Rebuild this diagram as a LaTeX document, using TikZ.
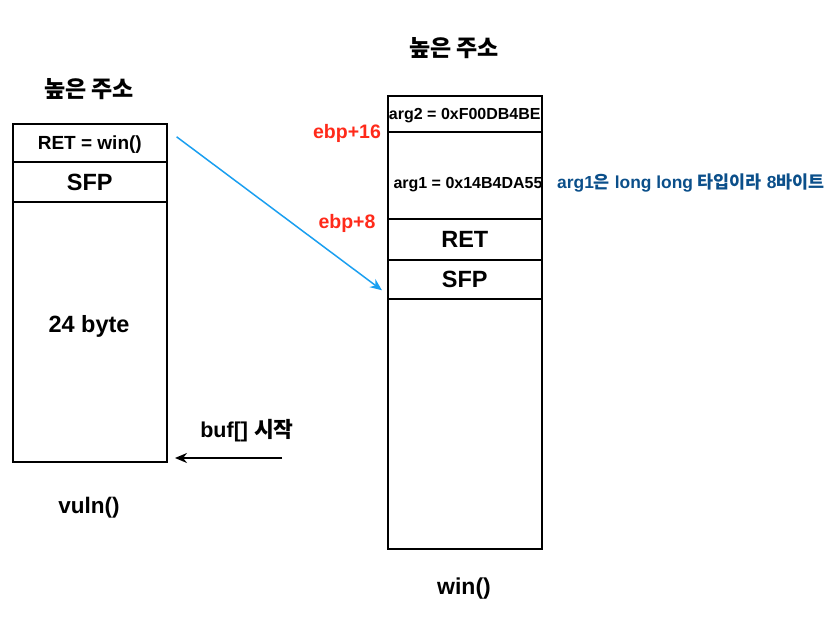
\documentclass[tikz,border=0pt]{standalone}
\usepackage{fontspec}
\setmainfont{Liberation Sans}
\newfontfamily\kr{Noto Sans CJK KR}
\usetikzlibrary{arrows.meta}
\definecolor{ebpred}{HTML}{FF2A1A}
\definecolor{notebl}{HTML}{0B4F8A}
\definecolor{arrbl}{HTML}{1A9FF0}
\tikzset{
  cell/.style={draw=black, line width=1.6pt, rectangle, anchor=north west, inner sep=0pt, minimum width=154pt, font=\bfseries},
  lbl/.style={font=\bfseries, inner sep=0pt, text depth=0pt},
}
\begin{document}
\begin{tikzpicture}[x=1pt,y=-1pt]
\useasboundingbox (0,0) rectangle (839,629);
% left stack
\node[cell, minimum height=38pt, text height=13.6pt, text depth=-9pt, font=\bfseries\fontsize{19}{22}\selectfont] (lret) at (12,123) {RET = win()};
\node[cell, minimum height=40pt, text height=16.8pt, text depth=-3pt, font=\bfseries\fontsize{23.5}{26}\selectfont] (lsfp) at (12,161) {SFP};
\node[cell, minimum height=260pt] (lbuf) at (12,201) {};
\node[lbl, text height=16.8pt, font=\bfseries\fontsize{23.5}{26}\selectfont] (lbyte) at (89,324.5) {24 byte};
\node[lbl, text height=17pt, font=\kr\bfseries\fontsize{23}{26}\selectfont] (lhigh) at (89,89) {높은 주소};
\node[lbl, text height=16.1pt, font=\bfseries\fontsize{22.5}{26}\selectfont] (lname) at (89,505.5) {vuln()};
% right stack
\node[cell, minimum height=36pt, text height=11.5pt, text depth=-4pt, font=\bfseries\fontsize{16}{19}\selectfont] (rarg2) at (387,95) {arg2 = 0xF00DB4BE};
\node[cell, minimum height=87pt] (rarg1) at (387,131) {};
\node[lbl, text height=11.5pt, font=\bfseries\fontsize{16}{19}\selectfont] (rarg1t) at (468,183) {arg1 = 0x14B4DA55};
\node[cell, minimum height=41pt, text height=16.8pt, text depth=-3pt, font=\bfseries\fontsize{23.5}{26}\selectfont] (rret) at (387,218) {RET};
\node[cell, minimum height=39pt, text height=16.8pt, text depth=-3pt, font=\bfseries\fontsize{23.5}{26}\selectfont] (rsfp) at (387,259) {SFP};
\node[cell, minimum height=250pt] (rrest) at (387,298) {};
\node[lbl, text height=17pt, font=\kr\bfseries\fontsize{23}{26}\selectfont] (rhigh) at (454,48) {높은 주소};
\node[lbl, text height=16.5pt, font=\bfseries\fontsize{23}{26}\selectfont] (rname) at (464,586.5) {win()};
\node[lbl, text height=14pt, text=ebpred, font=\bfseries\fontsize{19.5}{22}\selectfont] (ebp16) at (347,131.7) {ebp+16};
\node[lbl, text height=14pt, text=ebpred, font=\bfseries\fontsize{19.5}{22}\selectfont] (ebp8) at (347,221.3) {ebp+8};
\node[lbl, anchor=west, text height=12.5pt, text=notebl, font=\bfseries\fontsize{17.4}{20}\selectfont] (note) at (557,182.5) {arg1{\kr 은} long long {\kr 타입이라} 8{\kr 바이트}};
\node[lbl, text height=15.4pt, font=\bfseries\fontsize{21.5}{24}\selectfont] (bufstart) at (247,430) {buf[] {\kr 시작}};
% arrows
\coordinate (bufsrc) at (282,458);
\coordinate (bufdst) at (175,458);
\draw[arrbl, line width=1.5pt, -{Stealth[length=12pt,width=10pt]}] ([xshift=9pt,yshift=6pt]lret.east) -- ([xshift=-5pt,yshift=-11pt]rsfp.west);
\draw[black, line width=1.6pt, -{Stealth[length=12pt,width=10pt]}] (bufsrc) -- (bufdst);
\end{tikzpicture}
\end{document}
